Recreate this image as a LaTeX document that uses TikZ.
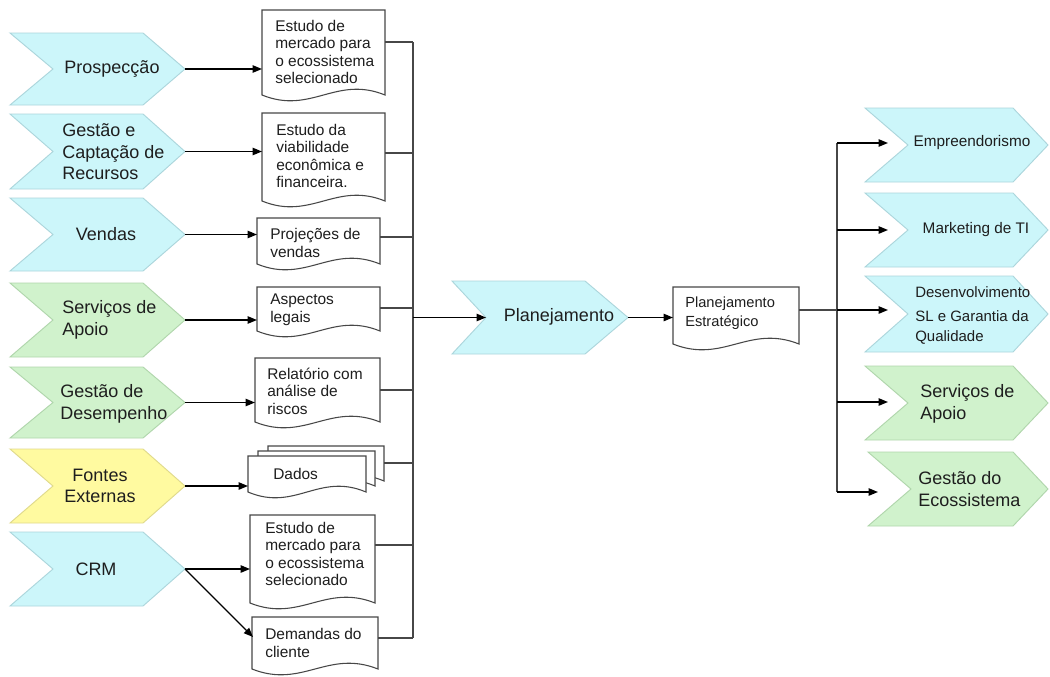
\documentclass[tikz,border=0pt]{standalone}
\usepackage{fontspec}
\setmainfont{Liberation Sans}
\usetikzlibrary{arrows.meta}

\definecolor{chcyan}{RGB}{204,246,250}
\definecolor{chcyanline}{RGB}{172,214,220}
\definecolor{chgreen}{RGB}{208,242,204}
\definecolor{chgreenline}{RGB}{176,214,172}
\definecolor{chyellow}{RGB}{255,250,160}
\definecolor{chyellowline}{RGB}{224,218,140}
\definecolor{ink}{RGB}{30,30,30}

\tikzset{
  chevbox/.style={line width=0.7pt, line join=miter},
  docbox/.style={draw=black!72, fill=white, line width=0.8pt},
  flow/.style={draw=black, line width=1pt, -{Triangle[length=7pt,width=5.5pt]}},
  busline/.style={draw=black!72, line width=1pt},
  biglabel/.style={font=\fontsize{13.5pt}{16.1pt}\selectfont, text=ink, inner sep=0pt, align=left},
  biglabelc/.style={biglabel, align=center},
  midlabel/.style={font=\fontsize{11.5pt}{14pt}\selectfont, text=ink, inner sep=0pt, align=left},
  doclabel/.style={font=\fontsize{11.6pt}{13.2pt}\selectfont, text=ink, inner sep=0pt, align=left, anchor=west},
}

% chevron: name, left x, notch depth, tip x, tip depth, top y, bottom y, fill, border
\newcommand\mkchev[9]{%
  \draw[chevbox, fill=#8, draw=#9]
    (#2,#6) -- ({#4-#5},#6) -- (#4,{(#6+#7)/2}) -- ({#4-#5},#7) -- (#2,#7)
    -- ({#2+#3},{(#6+#7)/2}) -- cycle;
  \coordinate (#1-tip) at (#4,{(#6+#7)/2});
  \coordinate (#1-notch) at ({#2+#3},{(#6+#7)/2});
}

% document sheet with wavy lower edge: name, left x, right x, top y, lowest y, outlet y
\newcommand\mkdoc[6]{%
  \draw[docbox]
    (#2,#4) -- (#3,#4) -- (#3,{#5-6})
    .. controls ({#3-0.4*(#3-#2)},{#5-26}) and ({#2+0.4*(#3-#2)},{#5+14}) ..
    (#2,{#5-6}) -- cycle;
  \coordinate (#1-nw) at (#2,#4);
  \coordinate (#1-ne) at (#3,#4);
  \coordinate (#1-out) at (#3,#6);
}

\begin{document}
\begin{tikzpicture}[x=0.75pt, y=-0.75pt]
\useasboundingbox (0,0) rectangle (1050,676);
\fill[white] (0,0) rectangle (1050,676);

% ---- source processes ----
\mkchev{prosp}{10}{43}{185}{42}{33}{105}{chcyan}{chcyanline}
\mkchev{capt}{10}{43}{185}{42}{114}{189}{chcyan}{chcyanline}
\mkchev{vend}{10}{43}{185}{42}{198}{271}{chcyan}{chcyanline}
\mkchev{serv}{10}{43}{185}{42}{283}{357}{chgreen}{chgreenline}
\mkchev{desemp}{10}{43}{185}{42}{367}{438}{chgreen}{chgreenline}
\mkchev{fontes}{10}{43}{185}{42}{449}{523}{chyellow}{chyellowline}
\mkchev{crm}{10}{43}{185}{42}{532}{606}{chcyan}{chcyanline}

\node[biglabel] (prosp-label) at (112,69) {Prospecção};
\node[biglabel, anchor=west] (capt-label) at (62,152) {Gestão e\\Captação de\\Recursos};
\node[biglabel] (vend-label) at (106,234) {Vendas};
\node[biglabel, anchor=west] (serv-label) at (62,320) {Serviços de\\Apoio};
\node[biglabel, anchor=west] (desemp-label) at (60,404) {Gestão de\\Desempenho};
\node[biglabelc] (fontes-label) at (100,486) {Fontes\\Externas};
\node[biglabel] (crm-label) at (96,569) {CRM};

% ---- documents ----
\mkdoc{d1}{262}{385}{10}{101}{42}
\mkdoc{d2}{262}{385}{113}{207}{153}
\mkdoc{d3}{257}{380}{218}{270}{237}
\mkdoc{d4}{257}{380}{287}{337}{308}
\mkdoc{d5}{255}{380}{358}{428}{390}
\mkdoc{d6c}{268}{384}{446}{487}{463}
\mkdoc{d6b}{258}{375}{451}{492}{468}
\mkdoc{d6}{248}{366}{456}{498}{475}
\mkdoc{d7}{250}{375}{515}{609}{545}
\mkdoc{d8}{252}{378}{617}{675}{638}

\node[doclabel] (d1-label) at (275,52) {Estudo de\\mercado para\\o ecossistema\\selecionado};
\node[doclabel] (d2-label) at (276,156) {Estudo da\\viabilidade\\econômica e\\financeira.};
\node[doclabel] (d3-label) at (270,243) {Projeções de\\vendas};
\node[doclabel] (d4-label) at (270,310) {Aspectos\\legais};
\node[doclabel] (d5-label) at (267,391) {Relatório com\\análise de\\riscos};
\node[doclabel] (d6-label) at (273,474) {Dados};
\node[doclabel] (d7-label) at (265,554) {Estudo de\\mercado para\\o ecossistema\\selecionado};
\node[doclabel] (d8-label) at (265,643) {Demandas do\\cliente};

% ---- arrows into documents ----
\draw[flow] (prosp-tip) -- (prosp-tip -| d1-nw);
\draw[flow] (capt-tip) -- (capt-tip -| d2-nw);
\draw[flow] (vend-tip) -- (vend-tip -| d3-nw);
\draw[flow] (serv-tip) -- (serv-tip -| d4-nw);
\draw[flow] (desemp-tip) -- (desemp-tip -| d5-nw);
\draw[flow] (fontes-tip) -- (fontes-tip -| d6-nw);
\draw[flow] (crm-tip) -- (crm-tip -| d7-nw);
\coordinate (d8-in) at (253,637);
\draw[flow] (crm-tip) -- (d8-in);

% ---- collecting bus ----
\coordinate (lbus-top) at (413,42);
\coordinate (lbus-bot) at (413,638);
\draw[busline] (lbus-top) -- (lbus-bot);
\foreach \d in {d1,d2,d3,d4,d5,d6c,d7,d8}
  \draw[busline] (\d-out) -- (\d-out -| lbus-top);

% ---- planning ----
\mkchev{plan}{452}{34}{628}{43}{281}{354}{chcyan}{chcyanline}
\node[biglabel] (plan-label) at (559,317) {Planejamento};
\draw[flow] (plan-notch -| lbus-top) -- (plan-notch);

\mkdoc{pe}{673}{799}{287}{350}{310}
\node[font=\fontsize{11pt}{14.2pt}\selectfont, text=ink, inner sep=0pt, align=left, anchor=west] (pe-label) at (685,313) {Planejamento\\Estratégico};
\draw[flow] (plan-tip) -- (plan-tip -| pe-nw);

% ---- outputs ----
\mkchev{empr}{865}{43}{1048}{35}{108}{182}{chcyan}{chcyanline}
\mkchev{mkt}{865}{43}{1048}{35}{193}{267}{chcyan}{chcyanline}
\mkchev{desenv}{865}{43}{1048}{35}{276}{352}{chcyan}{chcyanline}
\mkchev{servr}{865}{43}{1048}{35}{366}{440}{chgreen}{chgreenline}
\mkchev{ecos}{868}{43}{1048}{35}{452}{526}{chgreen}{chgreenline}

\node[midlabel] (empr-label) at (972,143) {Empreendorismo};
\node[midlabel] (mkt-label) at (976,230) {Marketing de TI};
\node[font=\fontsize{11.25pt}{15pt}\selectfont, text=ink, inner sep=0pt, align=left, anchor=west] (desenv-label) at (915,315) {Desenvolvimento\\[3pt]SL e Garantia da\\Qualidade};
\node[biglabel, anchor=west] (servr-label) at (920,404) {Serviços de\\Apoio};
\node[biglabel, anchor=west] (ecos-label) at (918,489) {Gestão do\\Ecossistema};

\coordinate (empr-in) at (888,143);
\coordinate (mkt-in) at (888,230);
\coordinate (desenv-in) at (888,310);
\coordinate (servr-in) at (888,402);
\coordinate (ecos-in) at (878,492);

\coordinate (rbus-top) at (837,143);
\coordinate (rbus-bot) at (837,492);
\draw[busline] (rbus-top) -- (rbus-bot);
\draw[busline] (pe-out) -- (pe-out -| rbus-top);
\foreach \o in {empr,mkt,desenv,servr,ecos}
  \draw[flow] (\o-in -| rbus-top) -- (\o-in);

\end{tikzpicture}
\end{document}
